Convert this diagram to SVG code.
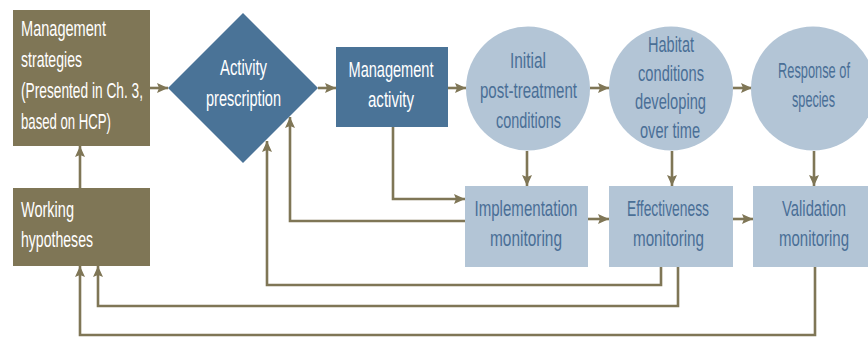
<svg xmlns="http://www.w3.org/2000/svg" width="868" height="337" viewBox="0 0 868 337">
<style>
.tan{fill:#7f7656}
.blue{fill:#4a7397}
.lb{fill:#b3c5d6}
text{font-family:"Liberation Sans",Arial,sans-serif;font-size:21.5px}
.w{fill:#ffffff}
.d{fill:#4a6f96;text-anchor:middle}
.wm{fill:#ffffff;text-anchor:middle}
.c{fill:none;stroke:#7f7656;stroke-width:2.6;marker-end:url(#ah)}
</style>
<defs>
<marker id="ah" markerUnits="userSpaceOnUse" markerWidth="12" markerHeight="10" refX="11" refY="5" orient="auto">
<path d="M0,0 L11,5 L0,10 L2,5 z" fill="#7f7656"/>
</marker>
</defs>
<rect width="868" height="337" fill="#ffffff"/>
<g id="connectors">
<path class="c" d="M150,88 H168"/>
<path class="c" d="M318,88 H336"/>
<path class="c" d="M448,88 H466"/>
<path class="c" d="M590,88 H609"/>
<path class="c" d="M733,88 H752"/>
<path class="c" d="M80,188 V146"/>
<path class="c" d="M393,127 V199 H465"/>
<path class="c" d="M527,151 V186"/>
<path class="c" d="M672,151 V186"/>
<path class="c" d="M814,151 V186"/>
<path class="c" d="M588,219 H609"/>
<path class="c" d="M733,219 H753"/>
<path class="c" d="M465,221 H290 V117"/>
<path class="c" d="M661,267 V285 H267 V141"/>
<path class="c" d="M678,267 V306 H98 V266"/>
<path class="c" d="M815,267 V335 H80 V266"/>
</g>
<g id="management-strategies">
<rect class="tan" x="13" y="10" width="137" height="136"/>
<text class="w" x="21" y="36" textLength="85" lengthAdjust="spacingAndGlyphs">Management</text>
<text class="w" x="21" y="67" textLength="61" lengthAdjust="spacingAndGlyphs">strategies</text>
<text class="w" x="21" y="98" textLength="122" lengthAdjust="spacingAndGlyphs">(Presented in Ch. 3,</text>
<text class="w" x="21" y="129" textLength="90" lengthAdjust="spacingAndGlyphs">based on HCP)</text>
</g>
<g id="working-hypotheses">
<rect class="tan" x="13" y="188" width="137" height="78"/>
<text class="w" x="21" y="217" textLength="53" lengthAdjust="spacingAndGlyphs">Working</text>
<text class="w" x="21" y="247" textLength="72" lengthAdjust="spacingAndGlyphs">hypotheses</text>
</g>
<g id="activity-prescription">
<polygon class="blue" points="243,13 318,88 243,163 168,88"/>
<text class="wm" x="243.5" y="75" textLength="47" lengthAdjust="spacingAndGlyphs">Activity</text>
<text class="wm" x="243.5" y="106" textLength="75" lengthAdjust="spacingAndGlyphs">prescription</text>
</g>
<g id="management-activity">
<rect class="blue" x="336" y="47" width="112" height="80"/>
<text class="wm" x="391" y="77" textLength="85" lengthAdjust="spacingAndGlyphs">Management</text>
<text class="wm" x="391" y="107" textLength="46" lengthAdjust="spacingAndGlyphs">activity</text>
</g>
<g id="initial-conditions">
<circle class="lb" cx="528" cy="88.5" r="62"/>
<text class="d" x="528" y="68" textLength="36" lengthAdjust="spacingAndGlyphs">Initial</text>
<text class="d" x="528.5" y="98" textLength="97" lengthAdjust="spacingAndGlyphs">post-treatment</text>
<text class="d" x="528.5" y="128" textLength="65" lengthAdjust="spacingAndGlyphs">conditions</text>
</g>
<g id="habitat-conditions">
<circle class="lb" cx="671" cy="88.5" r="62"/>
<text class="d" x="671" y="52" textLength="46" lengthAdjust="spacingAndGlyphs">Habitat</text>
<text class="d" x="671" y="81" textLength="66" lengthAdjust="spacingAndGlyphs">conditions</text>
<text class="d" x="670.5" y="109" textLength="71" lengthAdjust="spacingAndGlyphs">developing</text>
<text class="d" x="670" y="138" textLength="60" lengthAdjust="spacingAndGlyphs">over time</text>
</g>
<g id="response-of-species">
<circle class="lb" cx="813" cy="88.5" r="62"/>
<g transform="translate(814,78) scale(0.6,1)"><text class="d" x="0" y="0" textLength="120" lengthAdjust="spacingAndGlyphs">Response of</text></g>
<g transform="translate(813.5,107) scale(0.6,1)"><text class="d" x="0" y="0" textLength="71.7" lengthAdjust="spacingAndGlyphs">species</text></g>
</g>
<g id="implementation-monitoring">
<rect class="lb" x="465" y="186" width="123" height="81"/>
<text class="d" x="526" y="216" textLength="103" lengthAdjust="spacingAndGlyphs">Implementation</text>
<text class="d" x="526" y="246" textLength="72" lengthAdjust="spacingAndGlyphs">monitoring</text>
</g>
<g id="effectiveness-monitoring">
<rect class="lb" x="609" y="186" width="124" height="81"/>
<text class="d" x="668" y="216" textLength="82" lengthAdjust="spacingAndGlyphs">Effectiveness</text>
<text class="d" x="668.5" y="246" textLength="71" lengthAdjust="spacingAndGlyphs">monitoring</text>
</g>
<g id="validation-monitoring">
<rect class="lb" x="753" y="186" width="127" height="81"/>
<g transform="translate(814,216) scale(0.68,1)"><text class="d" x="0" y="0" textLength="94.1" lengthAdjust="spacingAndGlyphs">Validation</text></g>
<g transform="translate(814,246) scale(0.68,1)"><text class="d" x="0" y="0" textLength="102.9" lengthAdjust="spacingAndGlyphs">monitoring</text></g>
</g>
</svg>
